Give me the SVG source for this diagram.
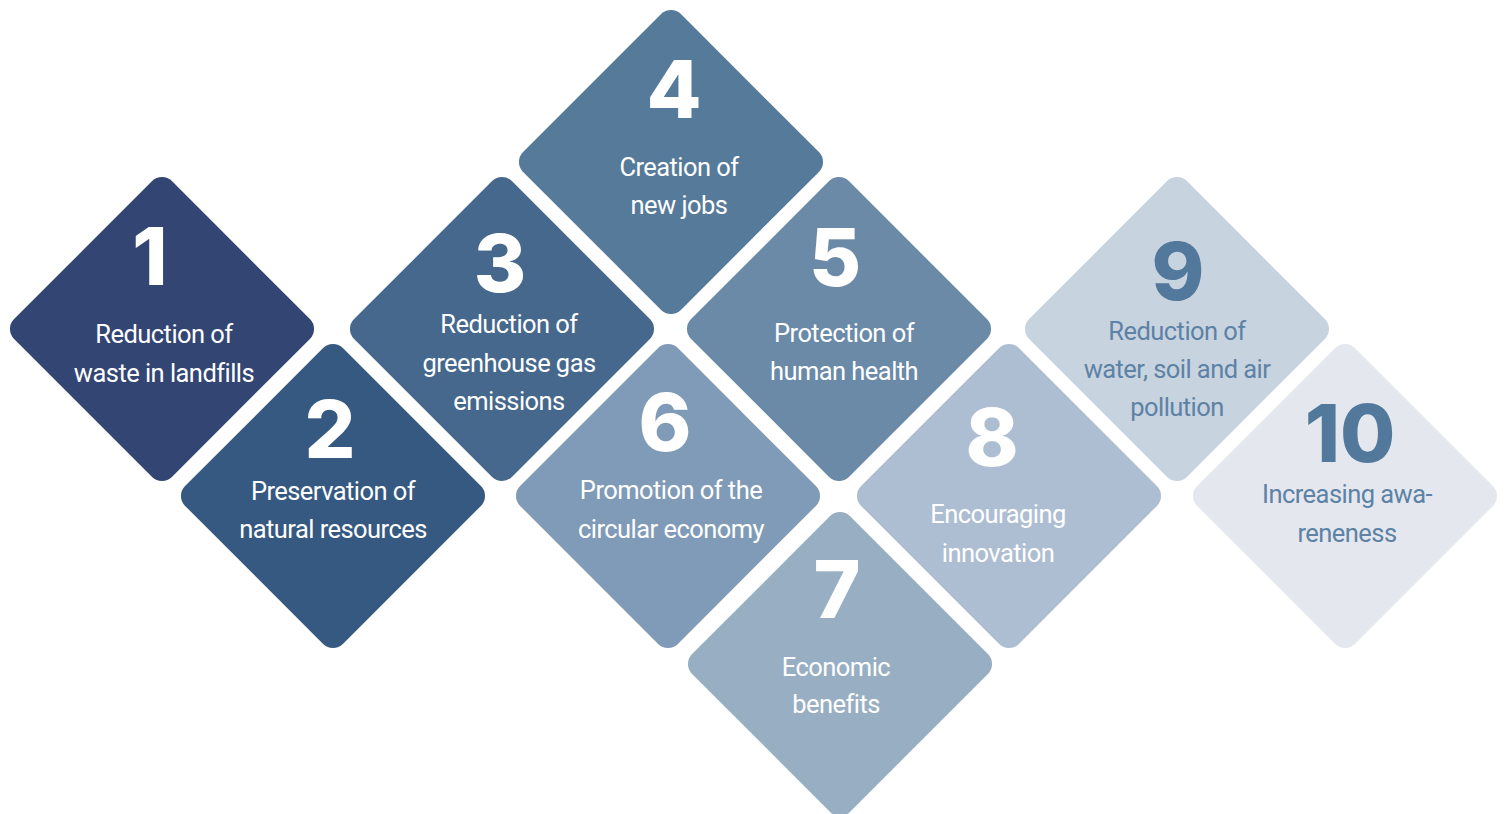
<svg xmlns="http://www.w3.org/2000/svg" width="1507" height="814" viewBox="0 0 1507 814">
<style>
.num{font-family:Inter,"Liberation Sans",sans-serif;font-weight:800;font-size:80px;text-anchor:middle;fill:#ffffff}
.lbl{font-family:Roboto,"Liberation Sans",sans-serif;font-size:25.5px;font-weight:400;letter-spacing:-0.55px;text-anchor:middle;fill:#ffffff}
.dk{fill:#52799b}
.dkl{fill:#5d82a5}
</style>
<defs>
<rect id="d" x="-111.6" y="-111.6" width="223.2" height="223.2" rx="14" ry="14" transform="rotate(45)"/>
</defs>
<rect width="1507" height="814" fill="#ffffff"/>
<g id="node1"><use href="#d" transform="translate(162,329)" fill="#334573"/><text class="num" x="150" y="285">1</text><text class="lbl" x="164" y="343">Reduction of</text><text class="lbl" x="164" y="382">waste in landfills</text></g>
<g id="node2"><use href="#d" transform="translate(333,496)" fill="#365981"/><text class="num" x="330" y="458">2</text><text class="lbl" x="333" y="500">Preservation of</text><text class="lbl" x="333" y="538">natural resources</text></g>
<g id="node3"><use href="#d" transform="translate(502,329)" fill="#45688c"/><text class="num" x="500" y="292">3</text><text class="lbl" x="509" y="333">Reduction of</text><text class="lbl" x="509" y="372">greenhouse gas</text><text class="lbl" x="509" y="410">emissions</text></g>
<g id="node4"><use href="#d" transform="translate(671,162)" fill="#567a99"/><text class="num" x="674" y="118">4</text><text class="lbl" x="679" y="176">Creation of</text><text class="lbl" x="679" y="214">new jobs</text></g>
<g id="node5"><use href="#d" transform="translate(839,329)" fill="#6a8aa8"/><text class="num" x="835" y="286">5</text><text class="lbl" x="844" y="342">Protection of</text><text class="lbl" x="844" y="380">human health</text></g>
<g id="node6"><use href="#d" transform="translate(668,496)" fill="#7f9bb7"/><text class="num" x="665" y="451">6</text><text class="lbl" x="671" y="499">Promotion of the</text><text class="lbl" x="671" y="538">circular economy</text></g>
<g id="node7"><use href="#d" transform="translate(840,664)" fill="#98aec3"/><text class="num" x="837" y="618">7</text><text class="lbl" x="836" y="676">Economic</text><text class="lbl" x="836" y="713">benefits</text></g>
<g id="node8"><use href="#d" transform="translate(1009,496)" fill="#aebed2"/><text class="num" x="992" y="466">8</text><text class="lbl" x="998" y="523">Encouraging</text><text class="lbl" x="998" y="562">innovation</text></g>
<g id="node9"><use href="#d" transform="translate(1177,329)" fill="#c8d3e0"/><text class="num dk" x="1178" y="300">9</text><text class="lbl dkl" x="1177" y="340">Reduction of</text><text class="lbl dkl" x="1177" y="378">water, soil and air</text><text class="lbl dkl" x="1177" y="416">pollution</text></g>
<g id="node10"><use href="#d" transform="translate(1345,496)" fill="#e4e8ee"/><text class="num dk" x="1350" y="462">10</text><text class="lbl dkl" x="1347" y="503">Increasing awa-</text><text class="lbl dkl" x="1347" y="542">reneness</text></g>
<g id="connectors"></g>
</svg>
